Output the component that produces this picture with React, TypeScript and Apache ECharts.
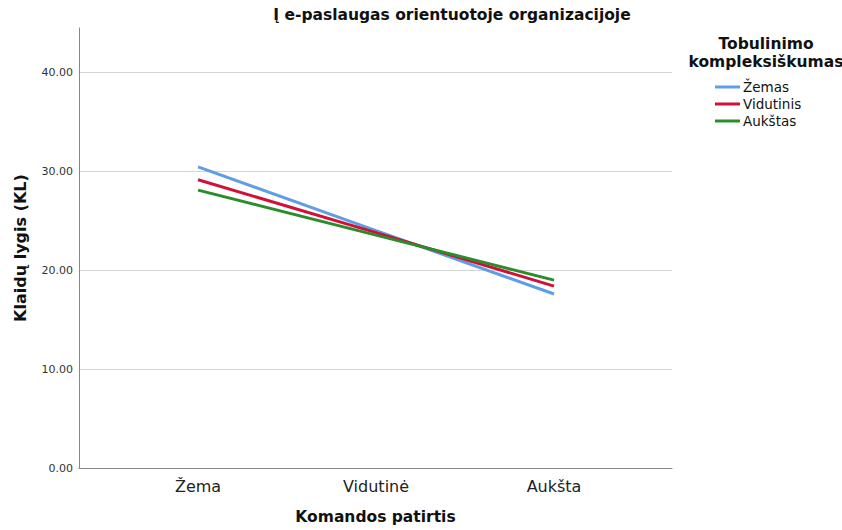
import React, { useEffect, useRef } from "react";
import * as echarts from "echarts";

const categories = ["Žema", "Vidutinė", "Aukšta"];
const seriesNames = ["Žemas", "Vidutinis", "Aukštas"];
const zemasValues = [30.45, 24.0, 17.6];
const vidutinisValues = [29.15, 23.8, 18.4];
const aukstasValues = [28.1, 23.55, 19.0];
const yTicks = [0, 10, 20, 30, 40];
const colors = ["#5f9de4", "#d1103a", "#2b8c2b"];

const FONT = "DejaVu Sans";

export default function App() {
  const ref = useRef<HTMLDivElement>(null);
  useEffect(() => {
    if (!ref.current) return;
    const chart = echarts.init(ref.current, undefined, { renderer: "svg" });
    const allValues = [zemasValues, vidutinisValues, aukstasValues];
    chart.setOption({
      animation: false,
      backgroundColor: "#ffffff",
      title: [
        {
          text: "Į e-paslaugas orientuotoje organizacijoje",
          left: 447,
          top: 2,
          textAlign: "center",
          textStyle: { fontFamily: FONT, fontSize: 15.5, fontWeight: "bold", color: "#111" },
        },
        {
          text: "Tobulinimo\nkompleksiškumas",
          left: 761,
          top: 30,
          textAlign: "center",
          textStyle: { fontFamily: FONT, fontSize: 15.5, fontWeight: "bold", color: "#111", lineHeight: 18 },
        },
      ],
      legend: {
        orient: "vertical",
        left: 715,
        top: 80,
        padding: 0,
        itemWidth: 25,
        itemHeight: 3,
        itemGap: 3,
        icon: "rect",
        data: seriesNames,
        textStyle: { fontFamily: FONT, fontSize: 13.5, color: "#111", padding: [0, 0, 0, -2] },
      },
      grid: { left: 79, right: 170, top: 28, bottom: 59, containLabel: false },
      xAxis: {
        type: "value",
        min: -0.669,
        max: 2.663,
        name: "Komandos patirtis",
        nameLocation: "middle",
        nameGap: 41,
        nameTextStyle: { fontFamily: FONT, fontSize: 15.5, fontWeight: "bold", color: "#111" },
        axisLine: { show: true, onZero: false, lineStyle: { color: "#888", width: 1 } },
        axisTick: { show: false },
        splitLine: { show: false },
        axisLabel: {
          customValues: [0, 1, 2],
          formatter: (v: number) => categories[Math.round(v)] ?? "",
          fontFamily: FONT,
          fontSize: 16,
          color: "#222",
          margin: 10,
        },
      },
      yAxis: {
        type: "value",
        min: 0,
        max: 44.5,
        interval: 10,
        name: "Klaidų lygis (KL)",
        nameLocation: "middle",
        nameGap: 51,
        nameTextStyle: { fontFamily: FONT, fontSize: 16, fontWeight: "bold", color: "#111" },
        axisLine: { show: true, onZero: false, lineStyle: { color: "#888", width: 1 } },
        axisTick: { show: false },
        axisLabel: {
          showMaxLabel: false,
          formatter: (v: number) => (yTicks.includes(v) ? v.toFixed(2) : ""),
          fontFamily: FONT,
          fontSize: 11,
          color: "#333",
          margin: 6,
        },
        splitLine: { show: true, showMaxLine: false, lineStyle: { color: "#d4d4d4", width: 1 } },
      },
      series: seriesNames.map((name, i) => ({
        name,
        type: "line",
        data: allValues[i].map((v, j) => [j, v]),
        showSymbol: false,
        symbol: "none",
        lineStyle: { color: colors[i], width: 3 },
        itemStyle: { color: colors[i] },
      })),
    });
    return () => chart.dispose();
  }, []);
  return <div ref={ref} style={{ position: "fixed", left: 0, top: 0, width: 842, height: 530 }} />;
}
